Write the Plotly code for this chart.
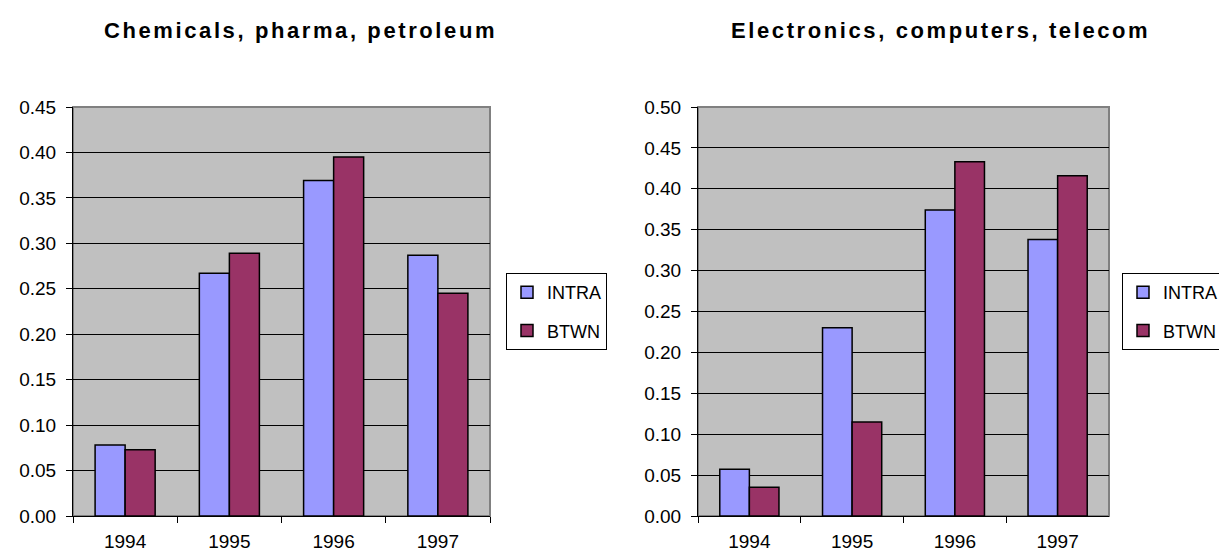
import plotly.graph_objects as go

years = ["1994", "1995", "1996", "1997"]
chem_intra = [0.078, 0.267, 0.369, 0.287]
chem_btwn = [0.073, 0.289, 0.395, 0.245]
elec_intra = [0.057, 0.230, 0.374, 0.338]
elec_btwn = [0.035, 0.115, 0.433, 0.416]
titles = ["Chemicals, pharma, petroleum", "Electronics, computers, telecom"]
series_names = ["INTRA", "BTWN"]
colors = ["#9999FF", "#993366"]

FONT = "Arial, Liberation Sans, sans-serif"
W, H = 1260, 553   # figure is a little wider than the window; the window clips the right legend box like the reference

fig = go.Figure()
for i, (vals, axn, leg) in enumerate([
    ((chem_intra, chem_btwn), "", "legend"),
    ((elec_intra, elec_btwn), "2", "legend2"),
]):
    for name, v, c in zip(series_names, vals, colors):
        fig.add_trace(go.Bar(
            x=years, y=v, name=name, legendgroup=name + str(i),
            marker=dict(color=c, line=dict(color="black", width=1.5)),
            xaxis="x" + axn, yaxis="y" + axn, legend=leg,
            hoverinfo="x+y+name",
        ))

left_dom = [73 / W, 490 / W]
right_dom = [698 / W, 1109 / W]
ydom = [1 - 516 / H, 1 - 107 / H]

xcommon = dict(type="category", tickson="boundaries", ticks="outside", ticklen=6,
               tickcolor="black", showline=True, linecolor="black", linewidth=1,
               showgrid=False, tickfont=dict(family=FONT, size=19, color="black"),
               ticklabelstandoff=8, automargin=False)
ycommon = dict(ticks="outside", ticklen=6, tickcolor="black", showline=True,
               linecolor="black", linewidth=1, showgrid=True, gridcolor="black",
               gridwidth=1, zeroline=False, tickformat=".2f", automargin=False,
               ticklabelstandoff=6,
               tickfont=dict(family=FONT, size=19, color="black"))

legcommon = dict(xanchor="left", yanchor="top", bordercolor="black", borderwidth=1,
                 bgcolor="white", font=dict(family=FONT, size=18, color="black"),
                 tracegroupgap=12, itemwidth=30)

fig.update_layout(
    template="none",
    width=W, height=H, autosize=False,
    margin=dict(l=0, r=0, t=0, b=0, pad=0),
    paper_bgcolor="white", plot_bgcolor="#C0C0C0",
    barmode="group", bargap=0.424, bargroupgap=0,
    xaxis=dict(domain=left_dom, anchor="y", **xcommon),
    yaxis=dict(domain=ydom, anchor="x", range=[0, 0.45], dtick=0.05, **ycommon),
    xaxis2=dict(domain=right_dom, anchor="y2", **xcommon),
    yaxis2=dict(domain=ydom, anchor="x2", range=[0, 0.50], dtick=0.05, **ycommon),
    legend=dict(x=506 / W, y=1 - 273 / H, **legcommon),
    legend2=dict(x=1122 / W, y=1 - 273 / H, **legcommon),
    showlegend=True,
)

# gray plot-area frames
for axn, ayn in [("x", "y"), ("x2", "y2")]:
    fig.add_shape(type="rect", xref=axn + " domain", yref=ayn + " domain",
                  x0=0, x1=1, y0=0, y1=1, line=dict(color="#808080", width=2),
                  fillcolor="rgba(0,0,0,0)", layer="below")

for t, cx in zip(titles, [300, 940]):
    fig.add_annotation(text='<span style="letter-spacing:2.6px"><b>' + t + "</b></span>",
                       x=cx / W, y=1 - 30 / H,
                       xref="paper", yref="paper", showarrow=False,
                       xanchor="center", yanchor="middle",
                       font=dict(family=FONT, size=22, color="black"))

fig.write_html(
    "out.html",
    config={"displayModeBar": False},
    post_script="document.body.style.margin='0';document.body.style.overflow='hidden';"
                "document.documentElement.style.overflow='hidden';",
)
